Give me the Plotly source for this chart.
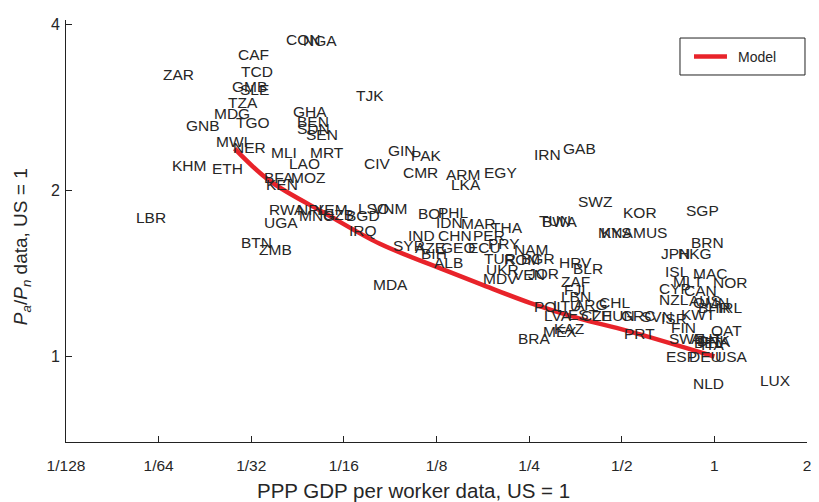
import numpy as np
import plotly.graph_objects as go

# Country codes with (PPP GDP per worker, Pa/Pn) -- US = 1
countries = ["CON", "NGA", "CAF", "TCD", "ZAR", "GMB", "SLE", "TZA", "MDG", "GNB",
             "TGO", "GHA", "BEN", "SDN", "SEN", "MWI", "NER", "MLI", "MRT", "KHM",
             "ETH", "LAO", "BFA", "MOZ", "KEN", "CIV", "GIN", "PAK", "CMR", "ARM",
             "LKA", "EGY", "IRN", "GAB", "TJK", "TUN", "BWA", "LBR", "UGA", "BTN",
             "ZMB", "MDA", "RWA", "NPL", "YEM", "MNG", "UZB", "BGD", "LSO", "VNM",
             "IRQ", "BOL", "PHL", "IDN", "MAR", "THA", "IND", "CHN", "PER", "SYR",
             "AZE", "GEO", "ECU", "BIH", "ALB", "PRY", "NAM", "TUR", "ROM", "BGR",
             "HRV", "BLR", "UKR", "MDV", "VEN", "JOR", "ZAF", "FJI", "LBN", "POL",
             "LTU", "ARG", "CHL", "LVA", "EST", "CZE", "HUN", "GRC", "SVN", "ISR",
             "BRA", "MEX", "KAZ", "PRT", "SWZ", "KOR", "SGP", "MYS", "KNA", "MUS",
             "BRN", "JPN", "HKG", "ISL", "MAC", "NOR", "MLT", "CYP", "CAN", "NZL",
             "AUS", "OMN", "IRL", "BHR", "KWT", "FIN", "QAT", "SWE", "AUT", "DNK",
             "BEL", "FRA", "ITA", "ESP", "DEU", "USA", "NLD", "LUX"]
gdp = [0.0402, 0.0456, 0.0280, 0.0287, 0.0160, 0.0268, 0.0285, 0.0260, 0.0234, 0.0190,
       0.0276, 0.0423, 0.0436, 0.0436, 0.0467, 0.0238, 0.0270, 0.0359, 0.0481, 0.0172,
       0.0231, 0.0411, 0.0341, 0.0417, 0.0346, 0.0720, 0.0861, 0.1024, 0.0964, 0.1330,
       0.1381, 0.1768, 0.257, 0.319, 0.0678, 0.267, 0.273, 0.01306, 0.0341, 0.0287,
       0.0328, 0.0770, 0.0353, 0.0436, 0.0495, 0.0443, 0.0530, 0.0631, 0.0688, 0.0770,
       0.0644, 0.1078, 0.1253, 0.1234, 0.1489, 0.1864, 0.1001, 0.1253, 0.1628, 0.0894,
       0.1055, 0.1282, 0.1568, 0.1103, 0.1216, 0.1821, 0.2213, 0.1768, 0.2053, 0.2333,
       0.310, 0.344, 0.1795, 0.1755, 0.2196, 0.2457, 0.315, 0.322, 0.315, 0.257,
       0.296, 0.347, 0.418, 0.277, 0.331, 0.366, 0.424, 0.493, 0.573, 0.665,
       0.228, 0.275, 0.299, 0.504, 0.357, 0.500, 0.802, 0.415, 0.424, 0.539,
       0.833, 0.665, 0.755, 0.685, 0.845, 0.981, 0.727, 0.655, 0.790, 0.655,
       0.820, 0.845, 1.019, 0.877, 0.772, 0.717, 0.967, 0.706, 0.833, 0.871,
       0.851, 0.884, 0.897, 0.690, 0.820, 1.000, 0.845, 1.396]
price = [3.75, 3.73, 3.52, 3.28, 3.24, 3.09, 3.04, 2.88, 2.75, 2.62,
         2.65, 2.78, 2.67, 2.59, 2.52, 2.45, 2.39, 2.34, 2.34, 2.22,
         2.19, 2.24, 2.11, 2.11, 2.05, 2.24, 2.36, 2.31, 2.15, 2.14,
         2.05, 2.15, 2.32, 2.38, 2.97, 1.762, 1.755, 1.784, 1.747, 1.609,
         1.562, 1.351, 1.844, 1.844, 1.844, 1.799, 1.806, 1.799, 1.852, 1.852,
         1.690, 1.814, 1.821, 1.747, 1.740, 1.711, 1.656, 1.656, 1.656, 1.589,
         1.575, 1.575, 1.575, 1.537, 1.480, 1.602, 1.562, 1.505, 1.499, 1.505,
         1.480, 1.444, 1.438, 1.385, 1.408, 1.414, 1.368, 1.323, 1.285, 1.233,
         1.238, 1.243, 1.254, 1.188, 1.193, 1.188, 1.188, 1.188, 1.183, 1.173,
         1.080, 1.112, 1.126, 1.102, 1.906, 1.821, 1.837, 1.677, 1.677, 1.677,
         1.609, 1.537, 1.537, 1.426, 1.414, 1.362, 1.368, 1.329, 1.318, 1.269,
         1.264, 1.254, 1.228, 1.228, 1.193, 1.130, 1.116, 1.080, 1.080, 1.071,
         1.058, 1.066, 1.053, 0.998, 0.998, 1.000, 0.892, 0.903]

# Model curve
model_x = [0.0276, 0.0359, 0.0550, 0.0818, 0.1187, 0.173, 0.2513, 0.3654, 0.519, 1.0]
model_y = [2.38, 2.08, 1.81, 1.60, 1.47, 1.354, 1.251, 1.171, 1.114, 1.0]

x_tickvals = [1/128, 1/64, 1/32, 1/16, 1/8, 1/4, 1/2, 1, 2]
x_ticktext = ["1/128", "1/64", "1/32", "1/16", "1/8", "1/4", "1/2", "1", "2"]
y_tickvals = [1, 2, 4]
y_ticktext = ["1", "2", "4"]

x_title = "PPP GDP per worker data, US = 1"
y_title = "<i>P</i><sub><i>a</i></sub>/<i>P</i><sub><i>n</i></sub> data, US = 1"
legend_label = "Model"

LABEL_FONT = "Liberation Sans, Arial, Helvetica, sans-serif"
TICK_FONT = "Liberation Sans, Arial, Helvetica, sans-serif"
TEXT_COLOR = "#262626"
RED = "#e8232a"

fig = go.Figure()
fig.add_trace(go.Scatter(
    x=model_x, y=model_y, mode="lines", name=legend_label,
    line=dict(color=RED, width=4.5, shape="spline"),
    showlegend=False,
))

annotations = []
for c, gx, py in zip(countries, gdp, price):
    annotations.append(dict(
        x=np.log10(gx), y=np.log10(py), xref="x", yref="y",
        text=c, showarrow=False, xanchor="left", yanchor="middle",
        font=dict(family=LABEL_FONT, size=15.5, color=TEXT_COLOR),
        borderpad=0,
    ))

# y tick labels placed next to the axis line
for v, t in zip(y_tickvals, y_ticktext):
    annotations.append(dict(
        x=-0.007, y=np.log10(v), xref="paper", yref="y", text=t,
        showarrow=False, xanchor="right", yanchor="middle", borderpad=0,
        font=dict(family=TICK_FONT, size=16, color=TEXT_COLOR),
    ))

# axis titles
annotations.append(dict(
    x=0.469, y=-0.114, xref="paper", yref="paper", text=x_title,
    showarrow=False, xanchor="center", yanchor="middle",
    font=dict(family=LABEL_FONT, size=20.5, color=TEXT_COLOR),
))
annotations.append(dict(
    x=-0.0594, y=0.464, xref="paper", yref="paper", text=y_title,
    showarrow=False, xanchor="center", yanchor="middle", textangle=-90,
    font=dict(family=LABEL_FONT, size=19, color=TEXT_COLOR),
))
# legend box (drawn manually to match size)
annotations.append(dict(
    x=0.9042, y=0.9135, xref="paper", yref="paper", text=legend_label,
    showarrow=False, xanchor="left", yanchor="middle",
    font=dict(family=LABEL_FONT, size=14, color=TEXT_COLOR),
))
shapes = [
    dict(type="rect", xref="paper", yref="paper", x0=0.8286, x1=0.9973,
         y0=0.8697, y1=0.9573, line=dict(color="#222", width=1),
         fillcolor="white", layer="above"),
    dict(type="line", xref="paper", yref="paper", x0=0.8475, x1=0.8920,
         y0=0.9135, y1=0.9135, line=dict(color=RED, width=4.5), layer="above"),
]

# The page body has an 8px default margin, so the figure is 8px smaller
fig.update_layout(
    width=811, height=494,
    margin=dict(l=58, r=12, t=12, b=60, autoexpand=False),
    paper_bgcolor="white", plot_bgcolor="white",
    annotations=annotations,
    shapes=shapes,
    showlegend=False,
    xaxis=dict(
        type="log", automargin=False,
        range=[np.log10(1/128), np.log10(2)],
        tickvals=x_tickvals, ticktext=x_ticktext,
        ticks="inside", ticklen=6, tickcolor="#222",
        showline=True, linecolor="#222", linewidth=1,
        showgrid=False, zeroline=False, mirror=False,
        ticklabelstandoff=9,
        tickfont=dict(family=TICK_FONT, size=15.5, color=TEXT_COLOR),
    ),
    yaxis=dict(
        type="log", automargin=False,
        range=[np.log10(0.70), np.log10(4.07)],
        tickvals=y_tickvals, ticktext=y_ticktext, showticklabels=False,
        ticks="inside", ticklen=6, tickcolor="#222",
        showline=True, linecolor="#222", linewidth=1,
        showgrid=False, zeroline=False, mirror=False,
    ),
)

fig.write_html("out.html")
